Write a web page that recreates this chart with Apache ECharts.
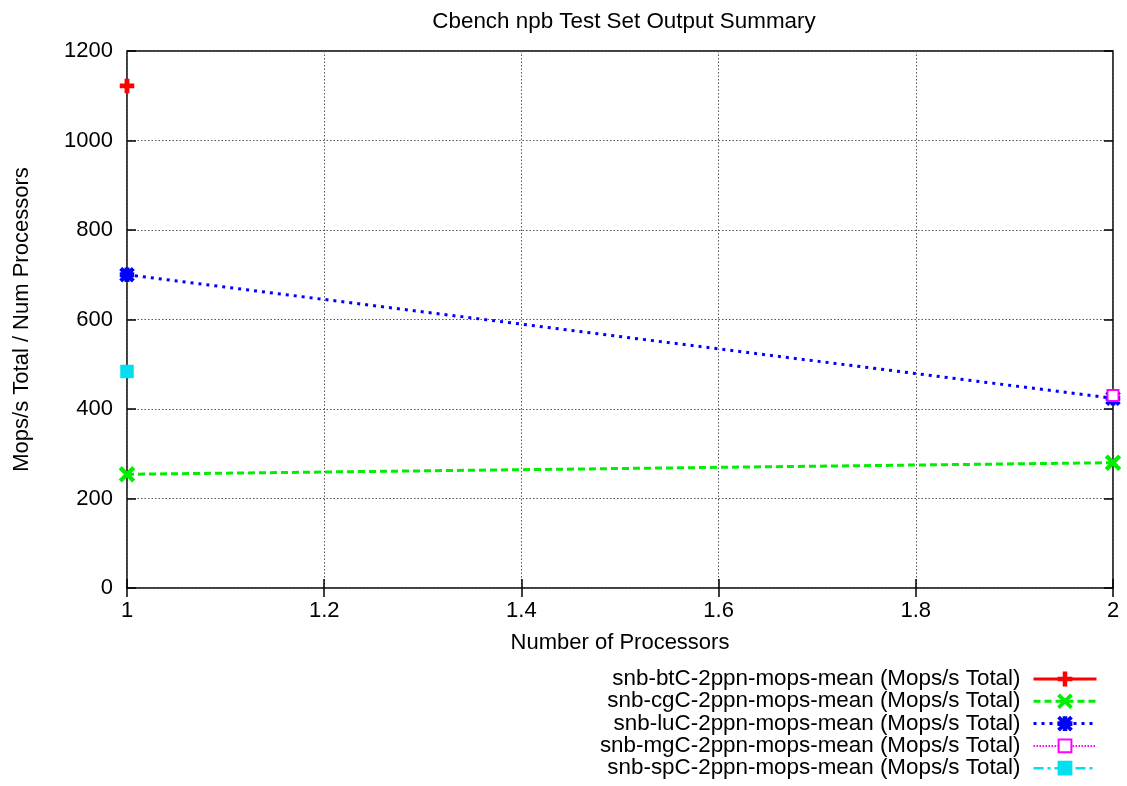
<!DOCTYPE html>
<html>
<head>
<meta charset="utf-8">
<script src="https://cdn.jsdelivr.net/npm/echarts@6/dist/echarts.min.js"></script>
<style>
  html, body { margin: 0; padding: 0; background: #fff; }
  #chart { width: 1127px; height: 786px; }
</style>
</head>
<body>
<div id="chart"></div>
<script>
// values
const btC = [[1, 1122]];
const cgC = [[1, 254], [2, 280]];
const luC = [[1, 700], [2, 424]];
const mgC = [[2, 430]];
const spC = [[1, 484]];

const names = [
  "snb-btC-2ppn-mops-mean (Mops/s Total)",
  "snb-cgC-2ppn-mops-mean (Mops/s Total)",
  "snb-luC-2ppn-mops-mean (Mops/s Total)",
  "snb-mgC-2ppn-mops-mean (Mops/s Total)",
  "snb-spC-2ppn-mops-mean (Mops/s Total)"
];
const widths = [3, 3, 3, 2, 2.5];

const font = "Liberation Sans";
const fs = 22;
const plus = "path://M4,0H6V4H10V6H6V10H4V6H0V4H4Z";
const cross = "path://M1,0L5,4L9,0L10,1L6,5L10,9L9,10L5,6L1,10L0,9L4,5L0,1Z";
const star = "path://M4,0H6V4H10V6H6V10H4V6H0V4H4Z M1,0L5,4L9,0L10,1L6,5L10,9L9,10L5,6L1,10L0,9L4,5L0,1Z";

const grid = { type: [1.5, 2], color: "#555", width: 1 };
const tick = { show: true, inside: true, length: 9, lineStyle: { color: "#000", width: 1.5 } };

function line(name, data, color, dash, width, symbol, size) {
  return {
    name: name,
    type: "line",
    data: data,
    clip: false,
    symbol: symbol,
    symbolSize: size,
    showAllSymbol: true,
    lineStyle: { color: color, width: width, type: dash, cap: "butt" },
    itemStyle: { color: color, borderColor: color, borderWidth: 2.5 },
    emphasis: { disabled: true },
    z: 3
  };
}

const chart = echarts.init(document.getElementById("chart"));
chart.setOption({
  animation: false,
  textStyle: { fontFamily: font, color: "#000" },
  title: {
    text: "Cbench npb Test Set Output Summary",
    left: 619, top: 6, textAlign: "center",
    textStyle: { fontFamily: font, fontSize: 22.4, fontWeight: "normal", color: "#000" }
  },
  grid: {
    left: 127, right: 14, top: 51, bottom: 198,
    show: true, borderColor: "#000", borderWidth: 1.5, backgroundColor: "transparent"
  },
  legend: {
    orient: "vertical", align: "right",
    right: 29, top: 668, height: 116, padding: 0,
    itemWidth: 63, itemHeight: 16, itemGap: 0.3,
    textStyle: { fontFamily: font, fontSize: 22.4, lineHeight: 22, color: "#000", padding: [0, 8, 0, 0] },
    data: names.map((n, i) => ({ name: n, lineStyle: { width: widths[i] } }))
  },
  xAxis: [{
    type: "value", min: 1, max: 2, interval: 0.2,
    name: "Number of Processors", nameLocation: "middle", nameGap: 44,
    nameTextStyle: { fontFamily: font, fontSize: fs, color: "#000" },
    axisLine: { show: false },
    axisTick: tick,
    axisLabel: { fontFamily: font, fontSize: fs, color: "#000", margin: 12 },
    splitLine: { show: true, lineStyle: grid }
  }, {
    type: "value", min: 1, max: 2, interval: 0.2, position: "top",
    axisLine: { show: false },
    axisTick: tick,
    axisLabel: { show: false },
    splitLine: { show: false }
  }],
  yAxis: [{
    type: "value", min: 0, max: 1200, interval: 200,
    name: "Mops/s Total / Num Processors", nameLocation: "middle", nameGap: 94, nameRotate: 90,
    nameTextStyle: { fontFamily: font, fontSize: fs, color: "#000" },
    axisLine: { show: false },
    axisTick: tick,
    axisLabel: { fontFamily: font, fontSize: fs, color: "#000", margin: 14, formatter: (v) => String(v) },
    splitLine: { show: true, lineStyle: grid }
  }, {
    type: "value", min: 0, max: 1200, interval: 200, position: "right",
    axisLine: { show: false },
    axisTick: tick,
    axisLabel: { show: false },
    splitLine: { show: false }
  }],
  series: [
    line(names[0], btC, "#ff0000", "solid", widths[0], plus, 12),
    line(names[1], cgC, "#00ee00", [7, 4], widths[1], cross, 13),
    line(names[2], luC, "#0000ff", [3, 5], widths[2], star, 12),
    line(names[3], mgC, "#ff00ff", [1.5, 1.5], widths[3], "emptyRect", 11),
    line(names[4], spC, "#00e0ee", [10, 4, 3, 4], widths[4], "rect", 11)
  ]
});
</script>
</body>
</html>
